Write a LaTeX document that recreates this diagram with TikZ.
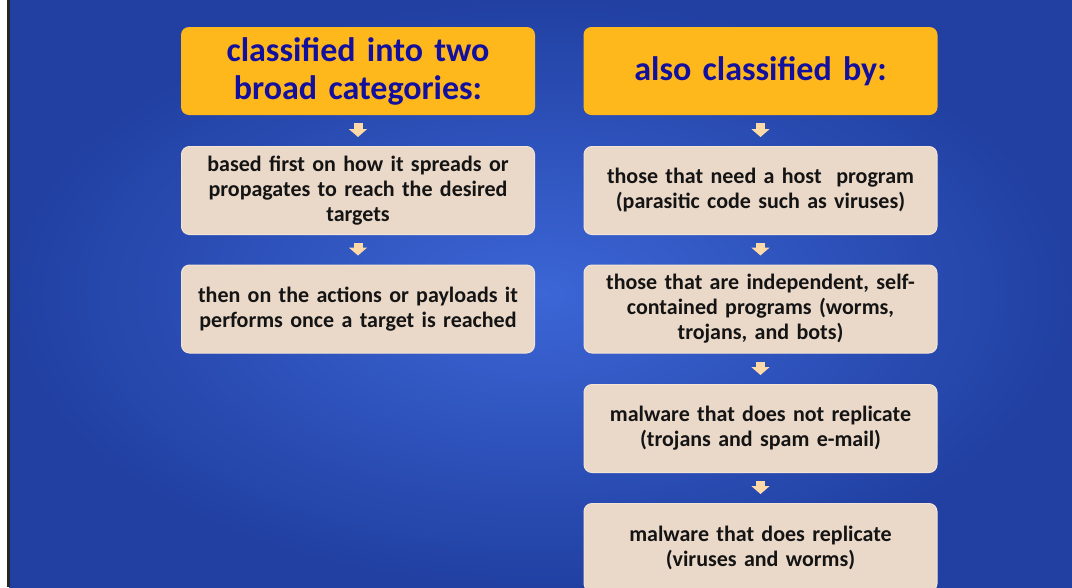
\documentclass[tikz,border=0pt]{standalone}
\usepackage{fontspec}
\setmainfont{Carlito}
\usetikzlibrary{arrows.meta,calc}
\definecolor{bgin}{HTML}{3C66D6}
\definecolor{bgout}{HTML}{2140A2}
\definecolor{hdrfill}{HTML}{FEB81C}
\definecolor{hdrtext}{HTML}{14109E}
\definecolor{boxfill}{HTML}{EAD8C8}
\definecolor{boxline}{HTML}{F4E4D6}
\definecolor{boxtext}{HTML}{141414}
\definecolor{arrowfill}{HTML}{FDDAA8}
\tikzset{
  hdr/.style={fill=hdrfill, draw=none, rounded corners=8pt, minimum width=354pt,
    minimum height=88pt, text width=340pt, align=center, text=hdrtext,
    font=\bfseries\fontsize{34}{38}\selectfont, inner sep=0pt},
  item/.style={fill=boxfill, draw=boxline, line width=1pt, rounded corners=8pt, minimum width=353pt,
    minimum height=88pt, text width=345pt, align=center, text=boxtext,
    font=\bfseries\fontsize{22}{25}\selectfont, inner sep=0pt},
  flow/.style={arrowfill, line width=9pt, shorten <=8pt, shorten >=9pt,
    -{Triangle[width=18pt,length=8pt]}}
}
\begin{document}
\begin{tikzpicture}[x=1pt,y=-1pt]
\useasboundingbox (0,0) rectangle (1072,587);
\begin{scope}
\clip (0,0) rectangle (1072,587);
\shade[inner color=bgin, outer color=bgout] (9,0) rectangle (1072,587);
\fill[white] (0,0) rectangle (7,587);
\fill[black!85] (7,0) rectangle (9.5,587);
% left column
\node[hdr] (l1) at (358,71) {classified into two\\broad categories:};
\node[item] (l2) at (358,190.5) {based first on how it spreads or\\propagates to reach the desired\\targets};
\node[item] (l3) at (358,309) {then on the actions or payloads it\\performs once a target is reached};
% right column
\node[hdr] (r1) at (760.5,71) {also classified by:};
\node[item] (r2) at (760.5,190.5) {those that need a host\ \ program\\(parasitic code such as viruses)};
\node[item] (r3) at (760.5,309) {those that are independent, self-\\contained programs (worms,\\trojans, and bots)};
\node[item] (r4) at (760.5,428.5) {malware that does not replicate\\(trojans and spam e-mail)};
\node[item] (r5) at (760.5,547.5) {malware that does replicate\\(viruses and worms)};
\draw[flow] (l1.south) -- (l2.north);
\draw[flow] (l2.south) -- (l3.north);
\draw[flow] (r1.south) -- (r2.north);
\draw[flow] (r2.south) -- (r3.north);
\draw[flow] (r3.south) -- (r4.north);
\draw[flow] (r4.south) -- (r5.north);
\end{scope}
\end{tikzpicture}
\end{document}
